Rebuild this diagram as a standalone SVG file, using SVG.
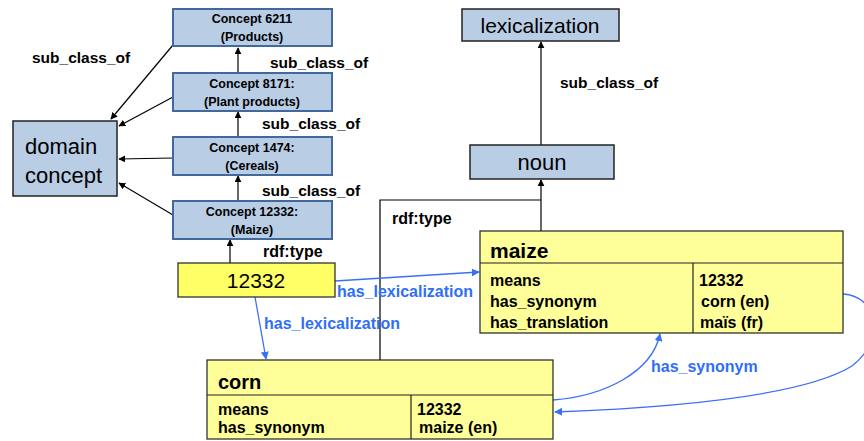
<svg xmlns="http://www.w3.org/2000/svg" width="864" height="441" viewBox="0 0 864 441">
  <style>
    .concept { fill: #b9cde5; stroke: #41699c; stroke-width: 2; }
    .cls { fill: #b9cde5; stroke: #222; stroke-width: 1.5; }
    .yel { fill: #ffff66; stroke: #222; stroke-width: 1.2; }
    .tbl { fill: #ffff99; stroke: #222; stroke-width: 1.2; }
    .div { stroke: #222; stroke-width: 1.2; fill: none; }
    .edge { stroke: #000; stroke-width: 1.2; fill: none; }
    .blue { stroke: #3a6ff7; stroke-width: 1.3; fill: none; }
    text { font-family: "Liberation Sans", Arial, sans-serif; fill: #000; }
    .ct { font-size: 12.5px; font-weight: bold; text-anchor: middle; }
    .lbl { font-size: 15.5px; font-weight: bold; }
    .blbl { font-size: 16px; font-weight: bold; fill: #2f6ff7; }
    .big { font-size: 21px; }
    .row { font-size: 16px; font-weight: bold; }
  </style>
  <defs>
    <marker id="ah" viewBox="0 0 10 10" refX="9" refY="5" markerWidth="7" markerHeight="7" orient="auto" markerUnits="userSpaceOnUse">
      <path d="M0,0 L10,5 L0,10 z" fill="#000"/>
    </marker>
    <marker id="ahb" viewBox="0 0 10 10" refX="9" refY="5" markerWidth="8" markerHeight="8" orient="auto" markerUnits="userSpaceOnUse">
      <path d="M0,0 L10,5 L0,10 z" fill="#3a6ff7"/>
    </marker>
  </defs>

  <!-- connectors -->
  <g id="connectors">
    <!-- concepts to domain concept -->
    <line class="edge" x1="173" y1="45" x2="111" y2="119" marker-end="url(#ah)"/>
    <line class="edge" x1="173" y1="97" x2="119" y2="126" marker-end="url(#ah)"/>
    <line class="edge" x1="173" y1="158" x2="119" y2="159" marker-end="url(#ah)"/>
    <line class="edge" x1="173" y1="215" x2="119" y2="183" marker-end="url(#ah)"/>
    <!-- concept chain -->
    <line class="edge" x1="238" y1="73" x2="238" y2="48" marker-end="url(#ah)"/>
    <line class="edge" x1="238" y1="137" x2="238" y2="112" marker-end="url(#ah)"/>
    <line class="edge" x1="238" y1="201" x2="238" y2="176" marker-end="url(#ah)"/>
    <line class="edge" x1="230" y1="263" x2="230" y2="240" marker-end="url(#ah)"/>
    <!-- lexical classes -->
    <line class="edge" x1="541" y1="145" x2="541" y2="42" marker-end="url(#ah)"/>
    <line class="edge" x1="541" y1="231" x2="541" y2="180" marker-end="url(#ah)"/>
    <polyline class="edge" points="380,360 380,200 541,200"/>
    <!-- lexicalizations -->
    <line class="blue" x1="335" y1="281" x2="479" y2="272" marker-end="url(#ahb)"/>
    <line class="blue" x1="255" y1="297" x2="266" y2="359" marker-end="url(#ahb)"/>
    <!-- synonyms -->
    <path class="blue" d="M553,400 C605,396 652,372 660,334" marker-end="url(#ahb)"/>
    <path class="blue" d="M843,294 C878,296 886,340 852,366 C800,398 660,408 555,412" marker-end="url(#ahb)"/>
  </g>

  <!-- edge labels -->
  <g id="labels">
    <text class="lbl" x="32" y="63">sub_class_of</text>
    <text class="lbl" x="270" y="68">sub_class_of</text>
    <text class="lbl" x="262" y="129">sub_class_of</text>
    <text class="lbl" x="262" y="196">sub_class_of</text>
    <text class="lbl" x="263" y="257" style="font-size:16px">rdf:type</text>
    <text class="lbl" x="560" y="88">sub_class_of</text>
    <text class="lbl" x="392" y="224" style="font-size:16px">rdf:type</text>
    <text class="blbl" x="337" y="297">has_lexicalization</text>
    <text class="blbl" x="264" y="329">has_lexicalization</text>
    <text class="blbl" x="651" y="372">has_synonym</text>
  </g>

  <g id="domain-concept">
    <rect class="cls" x="13" y="121" width="104" height="75"/>
    <text class="big" x="25" y="154" style="font-size:22px">domain</text>
    <text class="big" x="25" y="183" style="font-size:22px">concept</text>
  </g>

  <g id="concept-6211">
    <rect class="concept" x="173" y="9" width="159" height="37"/>
    <text class="ct" x="252" y="23">Concept 6211</text>
    <text class="ct" x="252" y="41">(Products)</text>
  </g>
  <g id="concept-8171">
    <rect class="concept" x="173" y="73" width="159" height="38"/>
    <text class="ct" x="252" y="88">Concept 8171:</text>
    <text class="ct" x="252" y="106">(Plant products)</text>
  </g>
  <g id="concept-1474">
    <rect class="concept" x="173" y="137" width="159" height="38"/>
    <text class="ct" x="252" y="152">Concept 1474:</text>
    <text class="ct" x="252" y="170">(Cereals)</text>
  </g>
  <g id="concept-12332">
    <rect class="concept" x="173" y="201" width="159" height="38"/>
    <text class="ct" x="252" y="216">Concept 12332:</text>
    <text class="ct" x="252" y="234">(Maize)</text>
  </g>

  <g id="id-12332">
    <rect class="yel" x="178" y="263" width="157" height="34"/>
    <text class="big" x="256" y="288" text-anchor="middle">12332</text>
  </g>

  <g id="lexicalization">
    <rect class="cls" x="462" y="9" width="157" height="32"/>
    <text class="big" x="540" y="33" text-anchor="middle">lexicalization</text>
  </g>

  <g id="noun">
    <rect class="cls" x="470" y="145" width="144" height="34"/>
    <text class="big" x="542" y="170" text-anchor="middle" style="font-size:22px">noun</text>
  </g>

  <g id="maize">
    <rect class="tbl" x="480" y="231" width="363" height="102"/>
    <line class="div" x1="480" y1="263" x2="843" y2="263"/>
    <line class="div" x1="693" y1="263" x2="693" y2="333"/>
    <text class="big" x="490" y="258" font-weight="bold">maize</text>
    <text class="row" x="490" y="286">means</text>
    <text class="row" x="490" y="307">has_synonym</text>
    <text class="row" x="490" y="328">has_translation</text>
    <text class="row" x="699" y="286">12332</text>
    <text class="row" x="701" y="307">corn (en)</text>
    <text class="row" x="700" y="328">maïs (fr)</text>
  </g>

  <g id="corn">
    <rect class="tbl" x="207" y="360" width="346" height="79"/>
    <line class="div" x1="207" y1="395" x2="553" y2="395"/>
    <line class="div" x1="411" y1="395" x2="411" y2="439"/>
    <text class="big" x="218" y="389" font-weight="bold" style="font-size:20px">corn</text>
    <text class="row" x="218" y="415">means</text>
    <text class="row" x="218" y="433">has_synonym</text>
    <text class="row" x="417" y="415">12332</text>
    <text class="row" x="419" y="433">maize (en)</text>
  </g>
</svg>
